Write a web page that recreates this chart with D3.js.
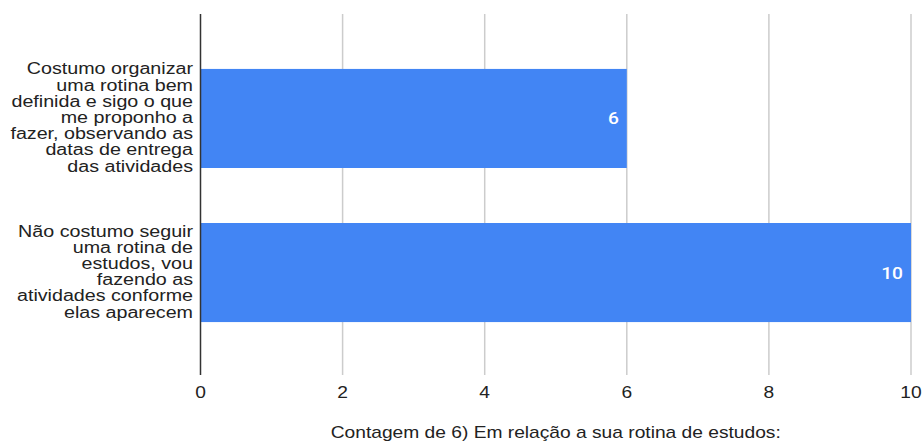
<!DOCTYPE html>
<html>
<head>
<meta charset="utf-8">
<script src="https://cdn.jsdelivr.net/npm/d3@7"></script>
<style>
  body { margin: 0; background: #fff; }
  text { font-family: Arial, "Liberation Sans", sans-serif; }
</style>
</head>
<body>
<svg id="chart" width="924" height="444"></svg>
<script>
(function() {

  // data
  let categories = [
    ["Costumo organizar", "uma rotina bem", "definida e sigo o que", "me proponho a",
     "fazer, observando as", "datas de entrega", "das atividades"],
    ["Não costumo seguir", "uma rotina de", "estudos, vou", "fazendo as",
     "atividades conforme", "elas aparecem"]
  ];
  let values = [6, 10];
  let tickValues = [0, 2, 4, 6, 8, 10];
  let title = "Contagem de 6) Em relação a sua rotina de estudos:";

  let left = 200.5, right = 911;
  let top = 14, bottom = 375;
  let stretch = 1.2; // text in the picture is a bit wide
  let labelStretch = 1.23;
  let fontSize = 16;
  let lineH = 16.2;

  let svg = d3.select("#chart");

  let xScale = d3.scaleLinear()
                 .domain([0, 10])
                 .range([left, right]);
  let yScale = d3.scaleBand()
                 .domain(d3.range(values.length))
                 .range([top + 1, bottom + 1])
                 .paddingInner(0.357)
                 .paddingOuter(0.35);

  // gridlines
  svg.append("g")
     .selectAll("line")
     .data(tickValues.filter(t => t > 0))
     .enter()
     .append("line")
     .attr("x1", d => xScale(d))
     .attr("x2", d => xScale(d))
     .attr("y1", top)
     .attr("y2", bottom)
     .attr("stroke", "#cccccc")
     .attr("stroke-width", 1.5);

  // bars
  svg.append("g")
     .selectAll("rect")
     .data(values)
     .enter()
     .append("rect")
     .attr("x", xScale(0))
     .attr("y", (d, i) => yScale(i))
     .attr("width", d => xScale(d) - xScale(0))
     .attr("height", yScale.bandwidth())
     .attr("fill", "#4285f4");

  // value labels
  svg.append("g")
     .selectAll("text")
     .data(values)
     .enter()
     .append("text")
     .attr("transform", (d, i) => "translate(" + (xScale(d) - 8) + "," + (yScale(i) + yScale.bandwidth() / 2 + 6) + ") scale(" + stretch + ",1)")
     .attr("text-anchor", "end")
     .attr("font-size", fontSize + "px")
     .attr("font-weight", 500)
     .style("font-family", "Roboto, sans-serif")
     .attr("fill", "#ffffff")
     .text(d => d);

  // zero axis line
  svg.append("line")
     .attr("x1", xScale(0))
     .attr("x2", xScale(0))
     .attr("y1", top)
     .attr("y2", bottom)
     .attr("stroke", "#333333")
     .attr("stroke-width", 1.5);

  // category labels
  categories.forEach(function(lines, i) {
    let cy = yScale(i) + yScale.bandwidth() / 2 - 1;
    svg.append("g")
       .selectAll("text")
       .data(lines)
       .enter()
       .append("text")
       .attr("transform", (d, j) => "translate(193," + (cy + (j - (lines.length - 1) / 2) * lineH + 5.5) + ") scale(" + labelStretch + ",1)")
       .attr("text-anchor", "end")
       .attr("font-size", fontSize + "px")
       .attr("fill", "#222222")
       .text(d => d);
  });

  // tick labels
  svg.append("g")
     .selectAll("text")
     .data(tickValues)
     .enter()
     .append("text")
     .attr("transform", d => "translate(" + xScale(d) + ",398) scale(" + stretch + ",1)")
     .attr("text-anchor", "middle")
     .attr("font-size", fontSize + "px")
     .attr("fill", "#222222")
     .text(d => d);

  // axis title
  svg.append("text")
     .attr("transform", "translate(" + ((left + right) / 2) + ",438) scale(" + stretch + ",1)")
     .attr("text-anchor", "middle")
     .attr("font-size", fontSize + "px")
     .attr("fill", "#222222")
     .text(title);

})();
</script>
</body>
</html>
